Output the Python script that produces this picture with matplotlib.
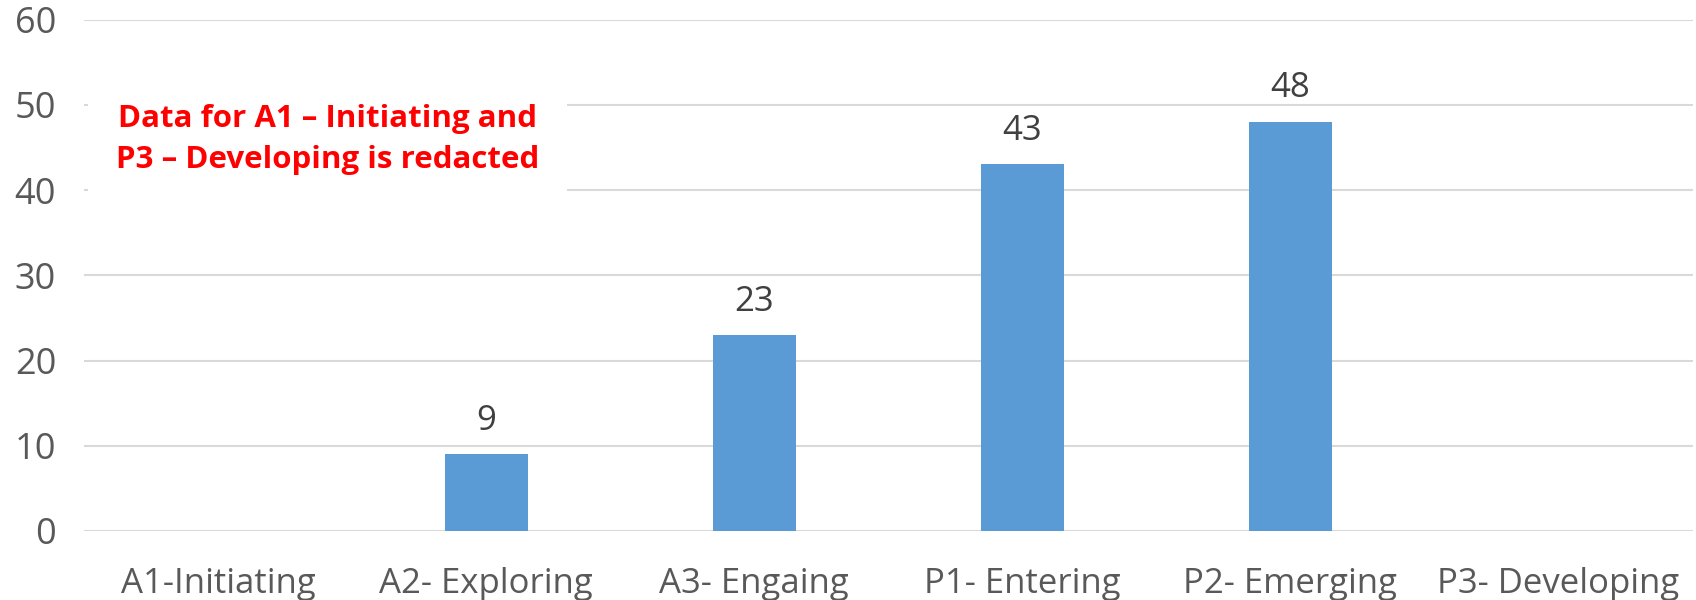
import matplotlib.pyplot as plt
import numpy as np

# chart data
categories = ["A1-Initiating", "A2- Exploring", "A3- Engaing",
              "P1- Entering", "P2- Emerging", "P3- Developing"]
values = [None, 9, 23, 43, 48, None]   # A1 and P3 redacted
note = "Data for A1 \u2013 Initiating and\nP3 \u2013 Developing is redacted"

plt.rcParams['font.family'] = ['Open Sans', 'DejaVu Sans']

fig = plt.figure(figsize=(16.96, 6), dpi=100)
ax = fig.add_axes([0.0495, 0.115, 0.9485, 0.8525])

x = np.arange(len(categories))
heights = [v if v is not None else 0 for v in values]
ax.bar(x, heights, width=0.31, color="#5B9BD5", zorder=3)

for xi, v in zip(x, values):
    if v is not None:
        ax.annotate(str(v), (xi, v), xytext=(0, 24), textcoords="offset points",
                    ha="center", va="center", fontsize=25, color="#404040")

ax.set_xlim(-0.5, len(categories) - 0.5)
ax.set_ylim(0, 60)
ax.set_yticks(range(0, 61, 10))
ax.set_xticks(x)
ax.set_xticklabels(categories)
ax.grid(axis="y", color="#d9d9d9", linewidth=1.5, zorder=0)
for s in ax.spines.values():
    s.set_visible(False)
ax.tick_params(axis="both", length=0, colors="#595959")
ax.tick_params(axis="y", pad=20, labelsize=26)
ax.tick_params(axis="x", pad=26, labelsize=25)

ax.text(0.41, 45.95, note, ha="center", va="center", fontsize=22.5,
        fontweight="bold", color="#ff0000", linespacing=1.5, zorder=4,
        bbox=dict(facecolor="white", edgecolor="none", pad=20))

fig.savefig("out.png", dpi=100)
